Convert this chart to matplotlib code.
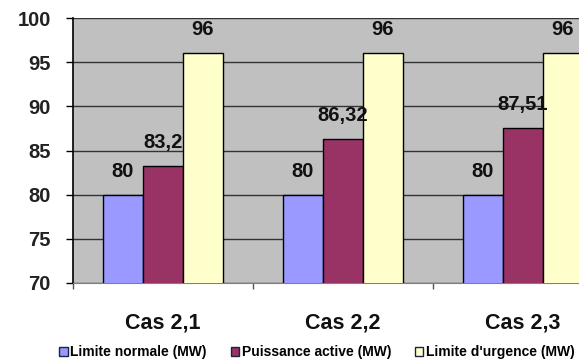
import numpy as np
import matplotlib.pyplot as plt
from matplotlib.patches import Patch

plt.rcParams['font.family'] = ['Liberation Sans', 'DejaVu Sans']

# Chart data
categories = ["Cas 2,1", "Cas 2,2", "Cas 2,3"]
series_names = ["Limite normale (MW)", "Puissance active (MW)", "Limite d'urgence (MW)"]
limite_normale = [80, 80, 80]
puissance_active = [83.2, 86.32, 87.51]
limite_urgence = [96, 96, 96]
y_ticks = [70, 75, 80, 85, 90, 95, 100]

colors = ["#9999FF", "#993366", "#FFFFCC"]

W, H = 579, 363
fig = plt.figure(figsize=(W / 100, H / 100), dpi=100)
# plot area runs past the right edge, as in the cropped screenshot
ax = fig.add_axes([73 / W, (H - 283) / H, (613 - 73) / W, (283 - 18) / H])
ax.set_facecolor("#C0C0C0")

x = np.arange(len(categories))
bw = 40 / 180
all_series = [limite_normale, puissance_active, limite_urgence]

for i, vals in enumerate(all_series):
    pos = x + (i - 1) * bw
    bars = ax.bar(pos, vals, width=bw, color=colors[i], edgecolor="black",
                  linewidth=1.0, zorder=3)
    for b, v in zip(bars, vals):
        txt = ("%g" % v).replace(".", ",")
        ax.annotate(txt, (b.get_x() + b.get_width() / 2, v),
                    xytext=(0, 17), textcoords="offset points",
                    ha="center", va="center", fontsize=14.5, fontweight="bold",
                    color="#111111", zorder=5)

ax.set_ylim(70, 100)
ax.set_xlim(-0.5, 2.5)
ax.set_yticks(y_ticks)
ax.yaxis.grid(True, color="#333333", linewidth=1.0, zorder=1)
ax.set_axisbelow(True)

ax.tick_params(axis="y", direction="out", length=5, width=1.0, pad=11,
               labelsize=14.5, color="black")
for lab in ax.get_yticklabels():
    lab.set_fontweight("bold")
    lab.set_color("#222222")

ax.set_xticks(x)
ax.set_xticklabels(categories, fontsize=15.5, fontweight="bold", color="#111111")
ax.tick_params(axis="x", which="major", length=0, pad=21)
ax.set_xticks([-0.5, 0.5, 1.5, 2.5], minor=True)
ax.tick_params(axis="x", which="minor", length=4, width=1.0, color="#555555")

ax.spines["top"].set_visible(False)
ax.spines["right"].set_visible(False)
ax.spines["left"].set_color("black")
ax.spines["left"].set_linewidth(1.2)
ax.spines["bottom"].set_color("#808080")
ax.spines["bottom"].set_linewidth(0.8)

handles = [Patch(facecolor=c, edgecolor="#202040", linewidth=1.0) for c in colors]
fig.legend(handles, series_names, loc="center", bbox_to_anchor=(317 / W, 1 - 352 / H),
           ncol=3, frameon=False, prop={"weight": "bold", "size": 10},
           handlelength=0.6, handleheight=0.6, handletextpad=0.2,
           columnspacing=1.7, borderpad=0)

fig.savefig("out.png", dpi=100)
